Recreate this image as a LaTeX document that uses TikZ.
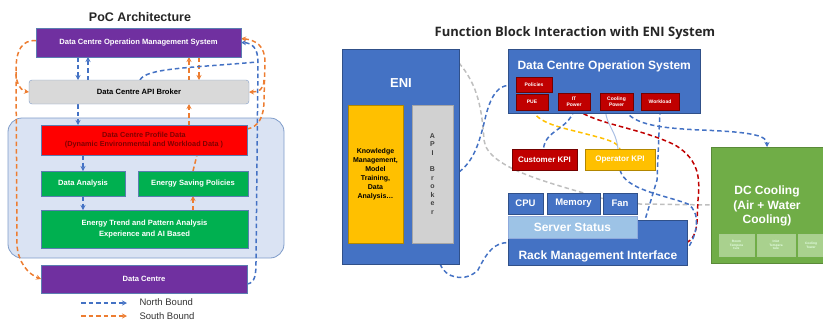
\documentclass[tikz,border=0pt]{standalone}
\usepackage{fontspec}
\setmainfont{Liberation Sans}
\newfontfamily\osans{Open Sans}
\usetikzlibrary{arrows.meta}
\pgfdeclarelayer{bg}\pgfdeclarelayer{mid}\pgfsetlayers{bg,mid,main}
\definecolor{purp}{HTML}{7030A0}
\definecolor{grn}{HTML}{00B050}
\definecolor{lgrn}{HTML}{70AD47}
\definecolor{pgrn}{HTML}{A9D18E}
\definecolor{eblue}{HTML}{4472C4}
\definecolor{sblue}{HTML}{9DC3E6}
\definecolor{dred}{HTML}{C00000}
\definecolor{yel}{HTML}{FFC000}
\definecolor{nblue}{HTML}{4472C4}
\definecolor{sorange}{HTML}{ED7D31}
\definecolor{contfill}{HTML}{DAE3F3}
\definecolor{contdraw}{HTML}{7F9CC9}
\definecolor{gbox}{HTML}{D9D9D9}
\definecolor{gline}{HTML}{BFBFBF}
\definecolor{edgeblue}{HTML}{5B7DB1}
\newcommand\fz[2]{\fontsize{#1}{#2}\selectfont}
\newcommand\bx[7]{\node[box,#2,minimum width=#5pt,minimum height=#6pt] (#1) at (#3,#4) {#7};}
\begin{document}
\begin{tikzpicture}[x=1pt,y=-1pt,
  box/.style={anchor=north west, inner sep=0pt, outer sep=0pt, align=center, font=\bfseries, text=white, line width=0.4pt},
  bl/.style={draw=nblue, line width=1.5pt, dash pattern=on 4.5pt off 3pt},
  ba/.style={bl, -{Stealth[length=5pt,width=5pt]}},
  ol/.style={draw=sorange, line width=1.5pt, dash pattern=on 4.5pt off 3pt},
  oa/.style={ol, -{Stealth[length=5pt,width=5pt]}},
  gl/.style={draw=gline, line width=1.5pt, dash pattern=on 4.5pt off 3pt},
  rl/.style={draw=dred, line width=1.5pt, dash pattern=on 4.5pt off 3pt},
  yl/.style={draw=yel, line width=1.5pt, dash pattern=on 4.5pt off 3pt},
  pl/.style={draw=nblue!45, line width=1pt},
  ttl/.style={font=\bfseries, text=black!85}
]
\useasboundingbox (0,0) rectangle (823,322);
% ---------- left diagram ----------
\node[ttl, font=\bfseries\fz{12.5}{14}] (t1) at (140,17) {PoC Architecture};
\begin{pgfonlayer}{bg}
\bx{cont}{fill=contfill, draw=contdraw, line width=0.8pt, rounded corners=14pt}{8}{118}{276}{140}{}
\end{pgfonlayer}
\bx{ops}{fill=purp, draw=edgeblue, font=\bfseries\fz{7.6}{9}}{36}{28}{205}{29}{Data Centre Operation Management System}
\bx{api}{fill=gbox, draw=contdraw, rounded corners=3pt, text=black, font=\bfseries\fz{7.6}{9}}{29}{80}{220}{24}{Data Centre API Broker}
\bx{prof}{fill=red, draw=edgeblue, text=red!50!black, font=\bfseries\fz{7.3}{9}}{41}{125}{206}{30}{Data Centre Profile Data\\(Dynamic Environmental and Workload Data )}
\bx{da}{fill=grn, draw=edgeblue, font=\bfseries\fz{7.6}{9}}{41}{171}{84}{25}{Data Analysis}
\bx{esp}{fill=grn, draw=edgeblue, font=\bfseries\fz{7.6}{9}}{138}{171}{110}{25}{Energy Saving Policies}
\bx{etr}{fill=grn, draw=edgeblue, font=\bfseries\fz{7.6}{10.5}}{41}{210}{207}{38}{Energy Trend and Pattern Analysis\\Experience and AI Based}
\bx{dc}{fill=purp, draw=edgeblue, font=\bfseries\fz{7.6}{9}}{41}{265}{206}{28}{Data Centre}
\coordinate (n1) at (81,303); \coordinate (n2) at (127,303);
\coordinate (s1) at (81,316); \coordinate (s2) at (127,316);
\node[anchor=west, font=\fz{9.5}{11}, text=black!80] (nt) at (136,302) {North Bound};
\node[anchor=west, font=\fz{9.5}{11}, text=black!80] (st) at (136,316) {South Bound};
\begin{pgfonlayer}{mid}
\draw[ba] (n1) -- (n2);
\draw[oa] (s1) -- (s2);
\draw[ba] ([xshift=42pt]ops.south west) -- ([xshift=49pt]api.north west);
\draw[ba] ([xshift=59pt]api.north west) -- ([xshift=52pt]ops.south west);
\draw[oa] ([xshift=160pt]api.north west) -- ([xshift=153pt]ops.south west);
\draw[oa] ([xshift=163pt]ops.south west) -- ([xshift=170pt]api.north west);
\draw[ba] ([xshift=49pt]api.south west) -- ([xshift=37pt]prof.north west);
\draw[oa] ([xshift=148pt]prof.north west) -- ([xshift=160pt]api.south west);
\draw[ba] ([xshift=42pt]prof.south west) -- ([xshift=42pt]da.north west);
\draw[ba] ([xshift=42pt]da.south west) -- ([xshift=42pt]etr.north west);
\draw[oa] ([xshift=152pt]etr.north west) -- ([xshift=55pt]esp.south west);
\draw[ol] ([xshift=55pt]esp.north west) -- ([xshift=156pt]prof.south west);
\draw[bl] ([xshift=111pt]api.north west) .. controls (146,68) and (190,68) .. (257,62);
\draw[ba] ([yshift=-5pt]dc.east) .. controls (255,283) and (256,275) .. (256,262) -- (258,62) .. controls (258,48) and (252,43) .. (ops.east);
\draw[oa] ([yshift=11pt]prof.east) .. controls (258,127) and (264,118) .. (264,100) -- (265,62) .. controls (265,46) and (256,40) .. ([yshift=4pt]ops.east);
\draw[oa] (264,80) .. controls (264,90) and (258,92) .. (api.east);
\draw[oa] ([yshift=2pt]ops.west) .. controls (22,40) and (16,50) .. (16,70) -- (17,245) .. controls (18,262) and (28,274) .. (dc.west);
\draw[oa] (16,72) .. controls (16,85) and (22,91) .. (api.west);
\end{pgfonlayer}
% ---------- right diagram ----------
\node[ttl, font=\osans\bfseries\fz{13}{15}] (t2) at (575,33) {Function Block Interaction with ENI System};
\bx{eni}{fill=eblue, draw=eblue!70!black}{342}{49}{117}{215}{}
\node[font=\bfseries\fz{13}{15}, text=white] (enil) at (401,83) {ENI};
\bx{know}{fill=yel, draw=yel!70!black, text=black, font=\bfseries\fz{7}{9}}{348}{105}{55}{138}{Knowledge\\Management,\\Model\\Training,\\Data\\Analysis\ldots}
\bx{apib}{fill=black!18, draw=black!35, text=black!75, font=\bfseries\fz{7}{8.5}}{412}{105}{41}{138}{A\\P\\I\\[8pt]B\\r\\o\\k\\e\\r}
\bx{dcos}{fill=eblue, draw=eblue!70!black}{508}{49}{192}{64}{}
\node[anchor=west, font=\bfseries\fz{12}{14}, text=white] (dcost) at (514,66) {Data Centre Operation System};
\bx{pol}{fill=dred, draw=dred!60!black, font=\bfseries\fz{5}{6}}{516}{77}{36}{15}{Policies}
\bx{pue}{fill=dred, draw=dred!60!black, font=\bfseries\fz{5}{6}}{516}{94}{32}{16}{PUE}
\bx{itp}{fill=dred, draw=dred!60!black, font=\bfseries\fz{5}{6}}{558}{93}{32}{17}{IT\\Power}
\bx{cop}{fill=dred, draw=dred!60!black, font=\bfseries\fz{5}{6}}{600}{93}{33}{17}{Cooling\\Power}
\bx{wl}{fill=dred, draw=dred!60!black, font=\bfseries\fz{5}{6}}{641}{93}{38}{17}{Workload}
\bx{ckpi}{fill=dred, draw=dred!60!black, font=\bfseries\fz{8}{9}}{512}{149}{65}{21}{Customer KPI}
\bx{okpi}{fill=yel, draw=yel!70!black, font=\bfseries\fz{8}{9}}{585}{149}{70}{21}{Operator KPI}
\bx{rack}{fill=eblue, draw=eblue!70!black}{508}{220}{179}{45}{}
\node[anchor=west, font=\bfseries\fz{12}{14}, text=white] (rackl) at (515,256) {Rack Management Interface};
\bx{cpu}{fill=eblue, draw=eblue!70!black, font=\bfseries\fz{9.5}{11}}{508}{193}{35}{21}{CPU}
\bx{mem}{fill=eblue, draw=eblue!70!black, font=\bfseries\fz{9.5}{11}}{547}{193}{53}{21}{Memory}
\bx{fan}{fill=eblue, draw=eblue!70!black, font=\bfseries\fz{9.5}{11}}{603}{193}{34}{21}{Fan}
\bx{ss}{fill=sblue, draw=eblue!60, font=\bfseries\fz{12}{14}}{508}{216}{129}{22}{Server Status}
\bx{dcc}{fill=lgrn, draw=lgrn!80!black}{711}{147}{112}{116}{}
\node[font=\bfseries\fz{12}{14.5}, text=white, align=center] (dccl) at (767,206) {DC Cooling\\(Air + Water\\Cooling)};
\bx{sb1}{fill=pgrn, draw=lgrn!60!white, text=white!90!green, font=\bfseries\fz{3.2}{3.8}}{719}{234}{35}{22}{Room\\Tempera\\ture}
\bx{sb2}{fill=pgrn, draw=lgrn!60!white, text=white!90!green, font=\bfseries\fz{3.2}{3.8}}{757}{234}{38}{22}{Inlet\\Tempera\\ture}
\bx{sb3}{fill=pgrn, draw=lgrn!60!white, text=white!90!green, font=\bfseries\fz{3.2}{3.8}}{798}{234}{26}{22}{Cooling\\Tower}
\begin{pgfonlayer}{mid}
\draw[gl] ([yshift=-14pt]eni.north east) .. controls (478,85) and (482,110) .. (484,140) .. controls (487,170) and (560,185) .. (600,198) -- (640,204) -- (dcc.west);
\draw[bl] ([yshift=-15.5pt]eni.east) .. controls (475,160) and (480,140) .. (486,115) .. controls (492,92) and (500,86) .. ([yshift=-4.5pt]dcos.west);
\draw[bl] ([xshift=98pt]eni.south west) .. controls (445,278) and (465,283) .. (478,270) .. controls (488,250) and (495,243) .. (rack.west);
\draw[yl] (pue.south) .. controls (540,125) and (565,128) .. (590,135) .. controls (610,140) and (618,143) .. (okpi.north);
\draw[bl] (itp.south) .. controls (568,130) and (545,130) .. ([xshift=-1pt]ckpi.north);
\draw[rl] ([xshift=3pt]itp.south) .. controls (600,125) and (640,128) .. (675,145) .. controls (700,160) and (700,180) .. (698,200) -- (697,222) .. controls (696,234) and (692,240) .. (rack.east);
\draw[pl] ([xshift=-11pt]cop.south) .. controls (606,125) and (616,130) .. ([xshift=-2pt]okpi.north);
\draw[ba] ([xshift=8pt]cop.south) .. controls (635,125) and (660,128) .. (700,130) .. controls (755,132) and (767,136) .. (dcc.north);
\draw[bl] (wl.south) -- (657,180) -- ([xshift=137pt]rack.north west);
\draw[bl] (okpi.south) .. controls (625,190) and (665,195) .. (688,204) .. controls (700,212) and (699,232) .. ([yshift=-7pt]rack.east);
\end{pgfonlayer}
\end{tikzpicture}
\end{document}
